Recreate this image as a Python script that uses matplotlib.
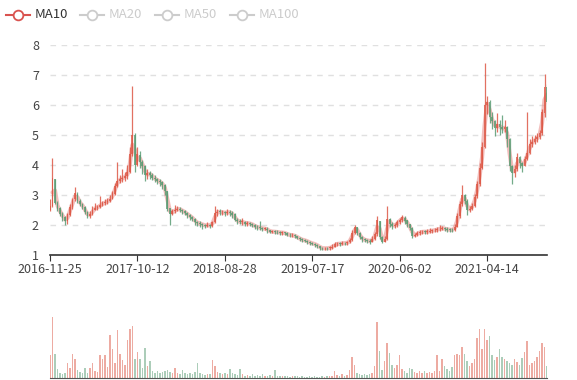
import matplotlib
matplotlib.use("Agg")
import matplotlib.pyplot as plt
from matplotlib.lines import Line2D
import numpy as np

plt.rcParams['font.family'] = ['Noto Sans CJK SC', 'DejaVu Sans']

# ---- data (one candle ~ one trading week) ----
first_open = 2.50
closes = [2.62, 3.55, 2.75, 2.55, 2.38, 2.25, 2.12, 2.35, 2.6, 2.85,
          3.05, 2.8, 2.7, 2.6, 2.42, 2.3, 2.38, 2.5, 2.58, 2.6,
          2.68, 2.72, 2.76, 2.8, 2.88, 3.05, 3.3, 3.48, 3.52, 3.58,
          3.62, 3.75, 4.35, 5.0, 4.0, 4.35, 4.1, 3.95, 3.65, 3.72,
          3.68, 3.58, 3.52, 3.47, 3.42, 3.33, 3.15, 2.55, 2.38, 2.45,
          2.5, 2.55, 2.5, 2.46, 2.4, 2.33, 2.28, 2.2, 2.1, 2.06,
          2.04, 2.0, 1.98, 2.0, 1.98, 2.1, 2.4, 2.45, 2.42, 2.42,
          2.4, 2.44, 2.4, 2.35, 2.18, 2.12, 2.1, 2.1, 2.05, 2.06,
          2.04, 2.0, 1.94, 1.93, 1.9, 1.88, 1.88, 1.82, 1.78, 1.78,
          1.77, 1.76, 1.74, 1.75, 1.72, 1.68, 1.66, 1.66, 1.62, 1.58,
          1.52, 1.5, 1.48, 1.44, 1.4, 1.38, 1.35, 1.3, 1.24, 1.22,
          1.23, 1.22, 1.25, 1.28, 1.36, 1.38, 1.37, 1.4, 1.39, 1.42,
          1.5, 1.75, 1.92, 1.75, 1.6, 1.52, 1.5, 1.48, 1.45, 1.55,
          1.7, 2.15, 1.6, 1.45, 1.55, 2.2, 2.05, 1.96, 2.0, 2.1,
          2.17, 2.25, 2.15, 2.02, 1.9, 1.65, 1.68, 1.72, 1.76, 1.78,
          1.77, 1.78, 1.8, 1.82, 1.83, 1.86, 1.88, 1.9, 1.86, 1.85,
          1.84, 1.83, 1.95, 2.3, 2.7, 3.0, 2.8, 2.5, 2.55, 2.65,
          2.95, 3.35, 3.9, 4.6, 6.0, 6.1, 5.6, 5.45, 5.22, 5.35,
          5.25, 5.2, 5.28, 4.85, 3.95, 3.72, 3.85, 4.25, 4.05, 3.98,
          4.2, 4.4, 4.7, 4.78, 4.85, 4.92, 5.05, 5.75, 6.6, 6.1]
highs = [2.85, 4.22, 3.4, 2.8, 2.6, 2.42, 2.3, 2.4, 2.7, 2.9,
         3.27, 3.1, 2.85, 2.75, 2.62, 2.45, 2.45, 2.62, 2.75, 2.68,
         2.98, 2.8, 2.85, 2.9, 3.0, 3.15, 3.4, 4.1, 3.65, 3.85,
         3.75, 4.0, 4.6, 6.62, 5.05, 4.6, 4.45, 4.15, 4.0, 3.85,
         3.8, 3.72, 3.65, 3.58, 3.55, 3.45, 3.35, 3.15, 2.55, 2.55,
         2.68, 2.62, 2.6, 2.55, 2.5, 2.42, 2.36, 2.3, 2.25, 2.15,
         2.12, 2.08, 2.05, 2.1, 2.05, 2.15, 2.62, 2.55, 2.52, 2.5,
         2.48, 2.55, 2.5, 2.45, 2.4, 2.22, 2.2, 2.25, 2.15, 2.12,
         2.1, 2.08, 2.02, 2.0, 2.12, 1.95, 1.94, 1.92, 1.85, 1.84,
         1.83, 1.82, 1.8, 1.8, 1.78, 1.76, 1.72, 1.72, 1.7, 1.65,
         1.6, 1.56, 1.54, 1.5, 1.46, 1.44, 1.4, 1.36, 1.3, 1.28,
         1.28, 1.27, 1.3, 1.38, 1.42, 1.44, 1.43, 1.46, 1.45, 1.48,
         1.58, 1.85, 2.0, 1.95, 1.78, 1.62, 1.58, 1.55, 1.52, 1.62,
         1.78, 2.3, 2.1, 1.62, 1.65, 2.62, 2.25, 2.1, 2.08, 2.18,
         2.25, 2.35, 2.3, 2.18, 2.05, 1.92, 1.75, 1.8, 1.84, 1.85,
         1.84, 1.86, 1.9, 1.88, 1.9, 1.95, 2.0, 1.98, 1.94, 1.92,
         1.9, 1.9, 2.02, 2.4, 2.8, 3.33, 3.05, 2.85, 2.65, 2.75,
         3.05, 3.45, 4.05, 4.75, 7.4, 6.3, 6.15, 5.75, 5.5, 5.72,
         5.5, 5.65, 5.5, 5.3, 4.9, 4.0, 4.0, 4.4, 4.3, 4.1,
         4.3, 5.75, 4.85, 4.95, 5.0, 5.05, 5.15, 5.85, 7.02, 6.7]
lows = [2.45, 2.6, 2.7, 2.45, 2.3, 2.15, 2.0, 2.05, 2.3, 2.55,
        2.8, 2.75, 2.65, 2.55, 2.38, 2.22, 2.25, 2.35, 2.5, 2.5,
        2.58, 2.62, 2.66, 2.7, 2.76, 2.85, 3.0, 3.25, 3.4, 3.42,
        3.45, 3.55, 3.72, 4.3, 3.78, 3.95, 3.9, 3.7, 3.48, 3.55,
        3.55, 3.5, 3.42, 3.38, 3.3, 3.2, 3.0, 2.45, 2.0, 2.32,
        2.4, 2.45, 2.42, 2.38, 2.32, 2.25, 2.18, 2.12, 2.0, 1.98,
        1.95, 1.88, 1.9, 1.92, 1.9, 1.95, 2.08, 2.3, 2.35, 2.35,
        2.3, 2.35, 2.3, 2.25, 2.12, 2.05, 2.02, 2.0, 1.98, 1.98,
        1.96, 1.92, 1.88, 1.85, 1.82, 1.8, 1.82, 1.75, 1.72, 1.72,
        1.7, 1.7, 1.68, 1.68, 1.66, 1.62, 1.6, 1.6, 1.56, 1.52,
        1.46, 1.44, 1.42, 1.38, 1.34, 1.32, 1.28, 1.24, 1.18, 1.16,
        1.17, 1.16, 1.18, 1.2, 1.26, 1.3, 1.3, 1.32, 1.32, 1.35,
        1.4, 1.48, 1.7, 1.68, 1.55, 1.45, 1.42, 1.4, 1.38, 1.42,
        1.5, 1.65, 1.55, 1.4, 1.42, 1.5, 1.95, 1.88, 1.9, 1.95,
        2.05, 2.1, 2.05, 1.95, 1.82, 1.58, 1.6, 1.62, 1.68, 1.7,
        1.7, 1.7, 1.72, 1.74, 1.76, 1.78, 1.8, 1.82, 1.8, 1.78,
        1.78, 1.76, 1.8, 1.92, 2.25, 2.65, 2.7, 2.35, 2.42, 2.5,
        2.6, 2.9, 3.3, 3.85, 4.55, 5.7, 5.4, 5.2, 4.95, 5.1,
        5.0, 5.05, 5.1, 4.6, 3.8, 3.35, 3.6, 3.8, 3.9, 3.75,
        3.95, 4.15, 4.35, 4.6, 4.7, 4.78, 4.85, 5.0, 5.6, 5.5]
volumes = [37, 100, 40, 14, 8, 7, 9, 25, 16, 40,
           31, 13, 10, 8, 16, 9, 16, 25, 12, 10,
           37, 31, 38, 18, 70, 48, 25, 78, 40, 30,
           22, 63, 80, 85, 31, 43, 31, 16, 50, 20,
           28, 12, 9, 11, 8, 10, 12, 13, 10, 9,
           17, 8, 7, 13, 8, 6, 9, 7, 10, 25,
           8, 6, 5, 6, 7, 29, 19, 10, 8, 7,
           9, 6, 14, 8, 6, 5, 14, 6, 4, 5,
           4, 6, 4, 5, 3, 6, 4, 3, 5, 4,
           13, 4, 3, 3, 4, 3, 2, 3, 4, 3,
           2, 3, 2, 2, 3, 2, 4, 2, 2, 3,
           2, 3, 4, 3, 12, 5, 4, 6, 4, 5,
           13, 35, 21, 8, 6, 5, 7, 5, 6, 8,
           19, 91, 45, 13, 28, 57, 41, 22, 16, 22,
           37, 15, 12, 9, 17, 14, 10, 8, 12, 9,
           11, 8, 10, 9, 12, 38, 12, 31, 20, 14,
           12, 18, 37, 40, 37, 51, 40, 28, 20, 25,
           31, 66, 81, 48, 80, 63, 69, 37, 30, 34,
           48, 35, 31, 28, 24, 22, 31, 26, 22, 33,
           43, 60, 22, 25, 28, 34, 44, 57, 51, 20]
x_labels = ["2016-11-25", "2017-10-12", "2018-08-28", "2019-07-17", "2020-06-02", "2021-04-14"]
label_every = 35
legend_names = ["MA10", "MA20", "MA50", "MA100"]
ma_window = 2  # ~10 trading days

# ---- derived ----
closes_a = np.array(closes)
opens_a = np.concatenate([[first_open], closes_a[:-1]])
highs_a = np.maximum.reduce([np.array(highs), opens_a, closes_a])
lows_a = np.minimum.reduce([np.array(lows), opens_a, closes_a])
n = len(closes_a)
idx = np.arange(n)
up = closes_a >= opens_a

UP = '#dd5846'
DOWN = '#5a9c74'
colors = np.where(up, UP, DOWN)

W, H = 577, 380
fig = plt.figure(figsize=(W / 100, H / 100), dpi=100)

def frac(l, t, r, b):
    return [l / W, 1 - b / H, (r - l) / W, (b - t) / H]

ax = fig.add_axes(frac(50, 45, 547, 255))
axv = fig.add_axes(frac(50, 317, 547, 378))

# MA line (under candles)
ma = np.convolve(closes_a, np.ones(ma_window) / ma_window, mode='full')[:n]
ma[:ma_window - 1] = np.nan
ax.plot(idx, ma, color='#e88a86', lw=3.0, alpha=0.55, zorder=2,
        solid_capstyle='round')

# candles
ax.vlines(idx, lows_a, highs_a, colors=colors, lw=0.9, alpha=0.85, zorder=3)
body_bottom = np.minimum(opens_a, closes_a)
body_h = np.maximum(np.abs(closes_a - opens_a), 0.02)
ax.bar(idx, body_h, bottom=body_bottom, width=0.75, color=colors, alpha=0.8,
       linewidth=0, zorder=4)

ax.set_xlim(0, n - 1)
ax.set_ylim(1, 8)
ax.set_yticks(range(1, 9))
ax.yaxis.grid(True, color='#e0e0e0', linestyle=(0, (4, 4)), lw=1)
ax.set_axisbelow(True)
for s in ['top', 'right', 'left']:
    ax.spines[s].set_visible(False)
ax.spines['bottom'].set_color('#333333')
ax.spines['bottom'].set_linewidth(1.2)
ax.tick_params(axis='y', length=0, labelsize=9, labelcolor='#444444', pad=8)
ticks = idx[::label_every][:len(x_labels)]
ax.set_xticks(ticks)
ax.set_xticklabels(x_labels)
ax.tick_params(axis='x', length=4, color='#333333', labelsize=9,
               labelcolor='#444444', pad=2)

# volume
axv.bar(idx, volumes, width=0.6, color=colors, alpha=0.5, linewidth=0)
axv.set_xlim(0, n - 1)
axv.set_ylim(0, 100)
axv.set_xticks([])
axv.set_yticks([])
for s in ['top', 'right', 'left']:
    axv.spines[s].set_visible(False)
axv.spines['bottom'].set_color('#555555')

# legend (MA10 active, others inactive)
legend_x = [6, 80, 155, 230]
ly = 1 - 15 / H
for name, lx in zip(legend_names, legend_x):
    col = '#d9534f' if name == 'MA10' else '#cccccc'
    tcol = '#333333' if name == 'MA10' else '#cccccc'
    fig.add_artist(Line2D([lx / W, (lx + 24) / W], [ly, ly], color=col, lw=1.5,
                          transform=fig.transFigure))
    fig.add_artist(Line2D([(lx + 12) / W], [ly], marker='o', markersize=7,
                          markerfacecolor='white', markeredgecolor=col,
                          markeredgewidth=1.3, transform=fig.transFigure))
    fig.text((lx + 29) / W, ly, name, color=tcol, fontsize=9.5,
             va='center', ha='left')

fig.savefig('out.png', dpi=100)
